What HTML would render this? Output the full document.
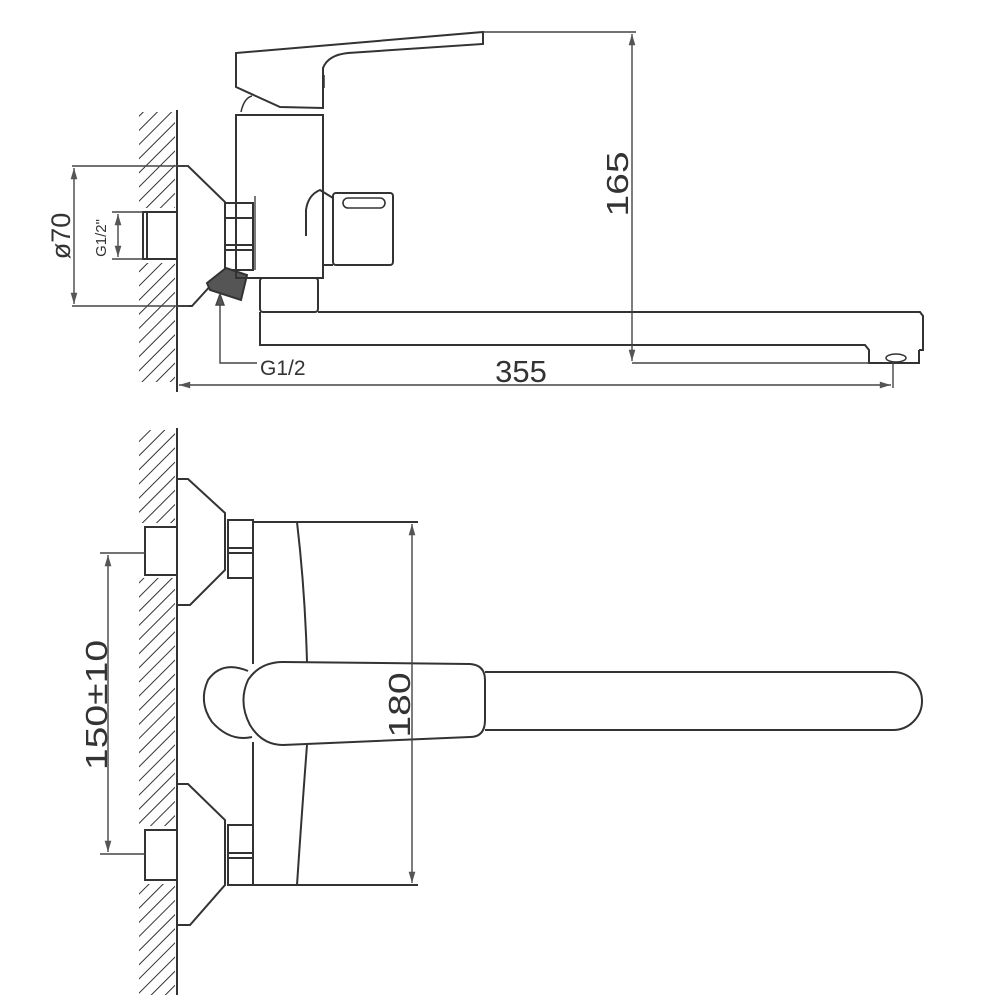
<!DOCTYPE html>
<html><head><meta charset="utf-8"><style>
html,body{margin:0;padding:0;background:#fff}
svg{display:block}
text{font-family:"Liberation Sans",sans-serif;fill:#333}
</style></head><body>
<svg width="1000" height="1000" viewBox="0 0 1000 1000" xmlns="http://www.w3.org/2000/svg">
<defs>
<pattern id="h" patternUnits="userSpaceOnUse" width="10" height="10" patternTransform="rotate(45)">
<line x1="0" y1="0" x2="0" y2="10" stroke="#333" stroke-width="2"/>
</pattern>
<marker id="a" viewBox="0 0 10 10" refX="10" refY="5" markerWidth="10" markerHeight="8" orient="auto-start-reverse"><path d="M0,2 L10,5 L0,8z" fill="#555"/></marker>
</defs>
<g fill="none" stroke="#333" stroke-width="2">
<rect x="139" y="112" width="36" height="270" fill="url(#h)" stroke="none"/>
<rect x="139" y="208" width="37" height="55" fill="#fff" stroke="none"/>
<line x1="177" y1="110" x2="177" y2="392"/>
<polyline points="177,166 188,166 225,202 225,270 213,283 192,306 177,306"/>
<rect x="143" y="212" width="34" height="47"/>
<line x1="147" y1="212" x2="147" y2="259"/>
<rect x="225" y="203" width="28" height="67"/>
<line x1="225" y1="218" x2="253" y2="218"/>
<line x1="225" y1="245" x2="253" y2="245"/>
<line x1="225" y1="250" x2="253" y2="250"/>
<line x1="255" y1="196" x2="255" y2="270" stroke-width="1.3"/>
<polygon points="207,283 226,268 247,275 241,300 210,290" fill="#555" stroke="#333"/>
<rect x="236" y="115" width="87" height="163"/>
<path d="M236,53 L236,87 L280,107 L323,108 L323,68 Q328,55 348,53 L483,44 L483,32 Z"/>
<path d="M241,112 Q244,98 252,96" stroke-width="1.5"/>
<line x1="324" y1="75" x2="324" y2="88" stroke-width="1.5"/>
<rect x="333" y="193" width="60" height="72" rx="3"/>
<rect x="343" y="198" width="42" height="10" rx="5" stroke-width="1.6"/>
<path d="M306,236 L306,210 Q308,195 320,190 L333,198"/>
<path d="M323,265 L333,265"/>
<rect x="260" y="278" width="58" height="34" rx="3"/>
<polyline points="318,312 920,312 923,316 923,350 919,350"/>
<polyline points="260,312 260,345 865,345 869,350 869,363 919,363 919,350"/>
<ellipse cx="896" cy="358" rx="10" ry="4" stroke-width="1.5"/>
</g>
<g stroke="#444" stroke-width="1.4" fill="none">
<line x1="72" y1="166" x2="188" y2="166"/>
<line x1="72" y1="306" x2="188" y2="306"/>
<line x1="74" y1="168" x2="74" y2="304" marker-start="url(#a)" marker-end="url(#a)"/>
<line x1="112" y1="212" x2="143" y2="212"/>
<line x1="112" y1="259" x2="143" y2="259"/>
<line x1="118" y1="214" x2="118" y2="257" marker-start="url(#a)" marker-end="url(#a)"/>
<line x1="483" y1="32" x2="636" y2="32"/>
<line x1="632" y1="34" x2="632" y2="361" marker-start="url(#a)" marker-end="url(#a)"/>
<line x1="632" y1="363" x2="869" y2="363"/>
<line x1="893" y1="362" x2="893" y2="388"/>
<line x1="179" y1="385" x2="891" y2="385" marker-start="url(#a)" marker-end="url(#a)"/>
<polyline points="220,295 220,363 257,363" />
<polygon points="216,305 220,294 224,305" fill="#555"/>
</g>
<text x="260" y="375" font-size="21">G1/2</text>
<text x="521" y="382" font-size="31" text-anchor="middle">355</text>
<text transform="translate(628,184) rotate(-90) scale(1.15,0.9)" font-size="34" text-anchor="middle">165</text>
<text transform="translate(70,236) rotate(-90)" font-size="27" text-anchor="middle">ø70</text>
<text transform="translate(106,238) rotate(-90)" font-size="15" text-anchor="middle">G1/2"</text>

<g fill="none" stroke="#333" stroke-width="2">
<rect x="139" y="430" width="36" height="565" fill="url(#h)" stroke="none"/>
<rect x="139" y="523" width="37" height="55" fill="#fff" stroke="none"/>
<rect x="139" y="826" width="37" height="58" fill="#fff" stroke="none"/>
<line x1="177" y1="428" x2="177" y2="995"/>
<polyline points="177,479 188,479 225,513 225,570 190,605 177,605"/>
<rect x="145" y="527" width="32" height="48"/>
<rect x="228" y="520" width="25" height="58"/>
<line x1="228" y1="548" x2="253" y2="548"/>
<line x1="228" y1="553" x2="253" y2="553"/>
<polyline points="177,784 188,784 225,820 225,885 190,925 177,925"/>
<rect x="145" y="830" width="32" height="50"/>
<rect x="228" y="825" width="25" height="60"/>
<line x1="228" y1="853" x2="253" y2="853"/>
<line x1="228" y1="858" x2="253" y2="858"/>
<line x1="253" y1="520" x2="253" y2="664"/>
<line x1="253" y1="742" x2="253" y2="886"/>
<line x1="253" y1="522" x2="418" y2="522"/>
<line x1="253" y1="885" x2="418" y2="885"/>
<path d="M297,522 Q305,590 307,662"/>
<path d="M307,745 Q302,810 297,885"/>
<path d="M248,671 Q222,660 208,680 Q198,702 212,722 Q230,742 252,737"/>
<path d="M470,664 L283,662 Q260,662 248,680 Q238,702 250,725 Q262,745 283,745 L470,737 Q485,737 485,720 L485,680 Q485,665 470,664 Z" fill="#fff"/>
<path d="M485,672 L893,672 A29,29 0 0 1 893,730 L485,730"/>
</g>
<g stroke="#444" stroke-width="1.4" fill="none">
<line x1="100" y1="553" x2="145" y2="553"/>
<line x1="100" y1="854" x2="145" y2="854"/>
<line x1="108" y1="555" x2="108" y2="852" marker-start="url(#a)" marker-end="url(#a)"/>
<line x1="412" y1="524" x2="412" y2="883" marker-start="url(#a)" marker-end="url(#a)"/>
</g>
<text transform="translate(107,705) rotate(-90) scale(1.15,0.9)" font-size="34" text-anchor="middle">150±10</text>
<text transform="translate(410,705) rotate(-90) scale(1.15,0.9)" font-size="34" text-anchor="middle">180</text>
</svg>
</body></html>
